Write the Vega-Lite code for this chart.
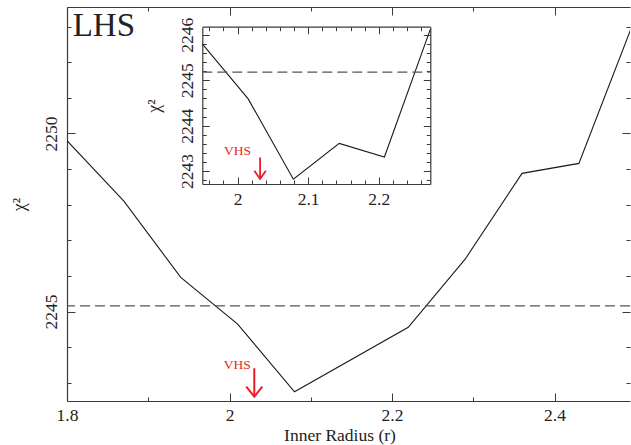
{
  "$schema": "https://vega.github.io/schema/vega-lite/v6.json",
  "background": "white",
  "autosize": {"type": "none"},
  "padding": {"left": 67, "top": 7, "right": 1, "bottom": 44},
  "width": 563,
  "height": 394,
  "config": {
    "view": {"stroke": null},
    "font": "Liberation Serif",
    "axis": {
      "grid": false,
      "domainColor": "#3a3a3a",
      "domainWidth": 1.2,
      "tickColor": "#3a3a3a",
      "tickWidth": 1,
      "labelFont": "Liberation Serif",
      "labelFontSize": 17.5,
      "labelColor": "#222222",
      "titleFont": "Liberation Serif",
      "titleFontSize": 17.5,
      "titleFontWeight": "normal",
      "titleColor": "#222222",
      "labelFlush": false,
      "labelOverlap": false,
      "labelBound": false
    }
  },
  "resolve": {"scale": {"x": "independent", "y": "independent"}, "axis": {"x": "independent", "y": "independent"}},
  "layer": [
    {
      "resolve": {"axis": {"x": "independent", "y": "independent"}},
      "layer": [
        {
          "data": {"values": [
            {"r": 1.80, "chi": 2249.80},
            {"r": 1.87, "chi": 2248.10},
            {"r": 1.94, "chi": 2245.96},
            {"r": 2.01, "chi": 2244.65},
            {"r": 2.08, "chi": 2242.75},
            {"r": 2.22, "chi": 2244.56},
            {"r": 2.29, "chi": 2246.47},
            {"r": 2.36, "chi": 2248.88},
            {"r": 2.43, "chi": 2249.16},
            {"r": 2.50, "chi": 2253.29}
          ]},
          "mark": {"type": "line", "color": "#1a1a1a", "strokeWidth": 1.1, "clip": true},
          "encoding": {
            "x": {"field": "r", "type": "quantitative",
              "scale": {"domain": [1.8, 2.4929], "nice": false, "zero": false},
              "axis": {"orient": "bottom", "values": [1.8, 2.0, 2.2, 2.4], "format": "~g", "tickSize": -8, "labelPadding": 27.7, "labelBaseline": "alphabetic", "labelAlign": "center", "domain": true,
                "title": "Inner Radius (r)", "titleX": 272.5, "titleY": 39.7, "titleAlign": "center", "titleBaseline": "alphabetic", "titleAngle": 0}},
            "y": {"field": "chi", "type": "quantitative",
              "scale": {"domain": [2242.49, 2253.55], "nice": false, "zero": false},
              "axis": {"orient": "left", "values": [2245, 2250], "format": "~g", "tickSize": -8, "labelPadding": 18.3, "labelAngle": -90, "labelAlign": "center", "labelBaseline": "alphabetic", "domain": true,
                "title": "χ²", "titleAngle": -90, "titleX": -47.5, "titleY": 197, "titleAlign": "center", "titleBaseline": "middle", "titleFontSize": 18}}
          }
        },
        {
          "data": {"values": [{"chi": 2245.16}]},
          "mark": {"type": "rule", "color": "#555555", "strokeDash": [10, 5], "strokeWidth": 1.1},
          "encoding": {
            "y": {"field": "chi", "type": "quantitative",
              "scale": {"domain": [2242.49, 2253.55], "nice": false, "zero": false},
              "axis": {"orient": "left", "values": [2243, 2244, 2246, 2247, 2248, 2249, 2251, 2252, 2253], "tickSize": -4, "labels": false, "domain": false, "title": null}}
          }
        },
        {
          "data": {"values": [{"label": "LHS", "r": 1.807, "chi": 2252.736}]},
          "mark": {"type": "text", "align": "left", "baseline": "alphabetic", "fontSize": 33, "font": "Liberation Serif", "color": "#222222"},
          "encoding": {
            "x": {"field": "r", "type": "quantitative",
              "scale": {"domain": [1.8, 2.4929], "nice": false, "zero": false},
              "axis": {"orient": "bottom", "values": [1.9, 2.1, 2.3], "tickSize": -4, "labels": false, "domain": false, "title": null}},
            "y": {"field": "chi", "type": "quantitative",
              "scale": {"domain": [2242.49, 2253.55], "nice": false, "zero": false},
              "axis": {"orient": "right", "values": [2245, 2250], "tickSize": -8, "labels": false, "domain": false, "title": null}},
            "text": {"field": "label"}
          }
        },
        {
          "data": {"values": [{"label": "VHS", "r": 2.0095, "chi": 2243.38}]},
          "mark": {"type": "text", "align": "center", "baseline": "alphabetic", "fontSize": 13.5, "font": "Liberation Serif", "color": "#ed1c24"},
          "encoding": {
            "x": {"field": "r", "type": "quantitative",
              "scale": {"domain": [1.8, 2.4929], "nice": false, "zero": false},
              "axis": {"orient": "top", "values": [1.8, 2.0, 2.2, 2.4], "tickSize": -8, "labels": false, "domain": true, "title": null}},
            "y": {"field": "chi", "type": "quantitative",
              "scale": {"domain": [2242.49, 2253.55], "nice": false, "zero": false},
              "axis": {"orient": "right", "values": [2243, 2244, 2246, 2247, 2248, 2249, 2251, 2252, 2253], "tickSize": -4, "labels": false, "domain": false, "title": null}},
            "text": {"field": "label"}
          }
        },
        {
          "data": {"values": [{"r": 2.0305, "chi": 2243.41, "chi2": 2242.64}]},
          "mark": {"type": "rule", "color": "#ed1c24", "strokeWidth": 2},
          "encoding": {
            "x": {"field": "r", "type": "quantitative",
              "scale": {"domain": [1.8, 2.4929], "nice": false, "zero": false},
              "axis": {"orient": "top", "values": [1.9, 2.1, 2.3], "tickSize": -4, "labels": false, "domain": false, "title": null}},
            "y": {"field": "chi", "type": "quantitative",
              "scale": {"domain": [2242.49, 2253.55], "nice": false, "zero": false}, "axis": null},
            "y2": {"field": "chi2"}
          }
        },
        {
          "data": {"values": [{"r": 2.0305, "chi": 2242.61}]},
          "mark": {"type": "point", "shape": "M-1,-1.25L0,0L1,-1.25", "size": 256, "filled": false, "stroke": "#ed1c24", "strokeWidth": 2, "opacity": 1},
          "encoding": {
            "x": {"field": "r", "type": "quantitative",
              "scale": {"domain": [1.8, 2.4929], "nice": false, "zero": false}, "axis": null},
            "y": {"field": "chi", "type": "quantitative",
              "scale": {"domain": [2242.49, 2253.55], "nice": false, "zero": false}, "axis": null}
          }
        }
      ]
    },
    {
      "resolve": {"axis": {"x": "independent", "y": "independent"}},
      "layer": [
        {
          "data": {"values": [
            {"r": 1.950, "chi": 2245.80},
            {"r": 2.015, "chi": 2244.59},
            {"r": 2.079, "chi": 2242.82},
            {"r": 2.144, "chi": 2243.61},
            {"r": 2.208, "chi": 2243.31},
            {"r": 2.273, "chi": 2246.12}
          ]},
          "mark": {"type": "line", "color": "#1a1a1a", "strokeWidth": 1.1},
          "encoding": {
            "x": {"field": "r", "type": "quantitative",
              "scale": {"domain": [1.95, 2.273], "range": [135.3, 363.3], "nice": false, "zero": false},
              "axis": {"orient": "bottom", "offset": -217, "values": [2.0, 2.1, 2.2], "format": "~g", "tickSize": -7, "labelPadding": 27, "labelBaseline": "alphabetic", "labelAlign": "center", "domain": true, "title": null}},
            "y": {"field": "chi", "type": "quantitative",
              "scale": {"domain": [2242.715, 2246.18], "range": [177, 19.7], "nice": false, "zero": false},
              "axis": {"orient": "left", "offset": -135.3, "values": [2243, 2244, 2245, 2246], "format": "~g", "tickSize": -7, "labelPadding": 16.6, "labelAngle": -90, "labelAlign": "center", "labelBaseline": "alphabetic", "domain": true,
                "title": "χ²", "titleAngle": -90, "titleX": -48.3, "titleY": 98.5, "titleAlign": "center", "titleBaseline": "middle", "titleFontSize": 18}}
          }
        },
        {
          "data": {"values": [{"chi": 2245.18, "r0": 1.95, "r1": 2.273}]},
          "mark": {"type": "rule", "color": "#555555", "strokeDash": [10, 5], "strokeWidth": 1.1},
          "encoding": {
            "x": {"field": "r0", "type": "quantitative",
              "scale": {"domain": [1.95, 2.273], "range": [135.3, 363.3], "nice": false, "zero": false}, "axis": null},
            "x2": {"field": "r1"},
            "y": {"field": "chi", "type": "quantitative",
              "scale": {"domain": [2242.715, 2246.18], "range": [177, 19.7], "nice": false, "zero": false},
              "axis": {"orient": "left", "offset": -135.3, "values": [2242.8, 2243.2, 2243.4, 2243.6, 2243.8, 2244.2, 2244.4, 2244.6, 2244.8, 2245.2, 2245.4, 2245.6, 2245.8], "tickSize": -4, "labels": false, "domain": false, "title": null}}
          }
        },
        {
          "data": {"values": [{"label": "VHS", "r": 2.0, "chi": 2243.35}]},
          "mark": {"type": "text", "align": "center", "baseline": "alphabetic", "fontSize": 13.5, "font": "Liberation Serif", "color": "#ed1c24"},
          "encoding": {
            "x": {"field": "r", "type": "quantitative",
              "scale": {"domain": [1.95, 2.273], "range": [135.3, 363.3], "nice": false, "zero": false},
              "axis": {"orient": "bottom", "offset": -217, "values": [1.96, 1.98, 2.02, 2.04, 2.06, 2.08, 2.12, 2.14, 2.16, 2.18, 2.22, 2.24, 2.26], "tickSize": -4, "labels": false, "domain": false, "title": null}},
            "y": {"field": "chi", "type": "quantitative",
              "scale": {"domain": [2242.715, 2246.18], "range": [177, 19.7], "nice": false, "zero": false},
              "axis": {"orient": "right", "offset": -199.7, "values": [2243, 2244, 2245, 2246], "tickSize": -7, "labels": false, "domain": true, "title": null}},
            "text": {"field": "label"}
          }
        },
        {
          "data": {"values": [{"r": 2.0319, "chi": 2243.30, "chi2": 2242.85}]},
          "mark": {"type": "rule", "color": "#ed1c24", "strokeWidth": 1.8},
          "encoding": {
            "x": {"field": "r", "type": "quantitative",
              "scale": {"domain": [1.95, 2.273], "range": [135.3, 363.3], "nice": false, "zero": false},
              "axis": {"orient": "top", "offset": -19.7, "values": [2.0, 2.1, 2.2], "tickSize": -7, "labels": false, "domain": true, "title": null}},
            "y": {"field": "chi", "type": "quantitative",
              "scale": {"domain": [2242.715, 2246.18], "range": [177, 19.7], "nice": false, "zero": false},
              "axis": {"orient": "right", "offset": -199.7, "values": [2242.8, 2243.2, 2243.4, 2243.6, 2243.8, 2244.2, 2244.4, 2244.6, 2244.8, 2245.2, 2245.4, 2245.6, 2245.8], "tickSize": -4, "labels": false, "domain": false, "title": null}},
            "y2": {"field": "chi2"}
          }
        },
        {
          "data": {"values": [{"r": 2.0319, "chi": 2242.825}]},
          "mark": {"type": "point", "shape": "M-1,-1.45L0,0L1,-1.45", "size": 132, "filled": false, "stroke": "#ed1c24", "strokeWidth": 1.8, "opacity": 1},
          "encoding": {
            "x": {"field": "r", "type": "quantitative",
              "scale": {"domain": [1.95, 2.273], "range": [135.3, 363.3], "nice": false, "zero": false},
              "axis": {"orient": "top", "offset": -19.7, "values": [1.96, 1.98, 2.02, 2.04, 2.06, 2.08, 2.12, 2.14, 2.16, 2.18, 2.22, 2.24, 2.26], "tickSize": -4, "labels": false, "domain": false, "title": null}},
            "y": {"field": "chi", "type": "quantitative",
              "scale": {"domain": [2242.715, 2246.18], "range": [177, 19.7], "nice": false, "zero": false}, "axis": null}
          }
        }
      ]
    }
  ]
}
